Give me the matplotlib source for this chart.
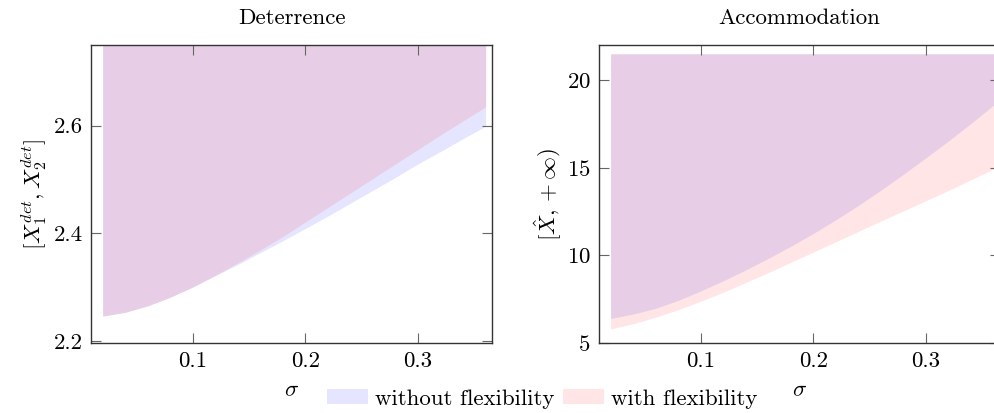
import matplotlib
matplotlib.use('Agg')
import matplotlib.pyplot as plt
from matplotlib.patches import Patch

plt.rcParams['font.family'] = 'serif'
plt.rcParams['font.serif'] = ['cmr10']
plt.rcParams['mathtext.fontset'] = 'cm'
plt.rcParams['axes.formatter.use_mathtext'] = True

# valores de sigma
sigma = [0.02, 0.04, 0.06, 0.08, 0.10, 0.12, 0.14, 0.16, 0.18,
         0.20, 0.22, 0.24, 0.26, 0.28, 0.30, 0.32, 0.34, 0.36]

# Deterrence: cota inferior del intervalo
det_sin_flex = [2.246, 2.253, 2.265, 2.281, 2.300, 2.321, 2.342, 2.364, 2.386,
                2.409, 2.432, 2.456, 2.480, 2.504, 2.529, 2.552, 2.576, 2.599]
det_con_flex = [2.246, 2.253, 2.265, 2.281, 2.300, 2.322, 2.345, 2.369, 2.394,
                2.421, 2.448, 2.475, 2.502, 2.529, 2.556, 2.583, 2.609, 2.635]
det_tope = 2.75

# Accommodation: cota inferior X hat
acc_sin_flex = [6.40, 6.65, 6.98, 7.43, 7.97, 8.55, 9.17, 9.83, 10.52,
                11.25, 12.03, 12.85, 13.72, 14.63, 15.57, 16.53, 17.53, 18.57]
acc_con_flex = [5.80, 6.10, 6.47, 6.90, 7.38, 7.90, 8.45, 9.02, 9.60,
                10.19, 10.78, 11.37, 11.96, 12.54, 13.12, 13.71, 14.31, 14.92]
acc_tope = 21.5

azul = (0, 0, 1, 0.1)
rojo = (1, 0, 0, 0.1)
fs = 16.5

fig = plt.figure(figsize=(9.95, 4.13), dpi=100)
ax1 = fig.add_axes([0.0915, 0.1695, 0.403, 0.7215])
ax2 = fig.add_axes([0.602, 0.1695, 0.403, 0.7215])

ax1.fill_between(sigma, det_sin_flex, det_tope, color=azul, linewidth=0)
ax1.fill_between(sigma, det_con_flex, det_tope, color=rojo, linewidth=0)
ax2.fill_between(sigma, acc_sin_flex, acc_tope, color=azul, linewidth=0)
ax2.fill_between(sigma, acc_con_flex, acc_tope, color=rojo, linewidth=0)

ax1.set_ylim(2.196, 2.75)
ax1.set_yticks([2.2, 2.4, 2.6])
ax1.set_yticklabels(['2.2', '2.4', '2.6'])
ax2.set_ylim(5, 22.0)
ax2.set_yticks([5, 10, 15, 20])

for ax in (ax1, ax2):
    ax.set_xlim(0.0097, 0.3657)
    ax.set_xticks([0.1, 0.2, 0.3])
    ax.set_xticklabels(['0.1', '0.2', '0.3'])
    ax.tick_params(direction='in', top=True, right=True, length=7, width=0.8,
                   color='#666666', labelsize=fs, pad=6)
    for s in ax.spines.values():
        s.set_color('#333333')
        s.set_linewidth(1.0)
    ax.set_xlabel(r'$\sigma$', fontsize=fs, labelpad=7)

ax1.set_title('Deterrence', fontsize=fs, pad=15)
ax2.set_title('Accommodation', fontsize=fs, pad=15)
ax1.set_ylabel(r'$[X_1^{det}, X_2^{det}]$', fontsize=fs, labelpad=3)
ax2.set_ylabel(r'$[\hat{X}, +\infty)$', fontsize=fs, labelpad=2)

handles = [Patch(facecolor=azul, edgecolor='none', label='without flexibility'),
           Patch(facecolor=rojo, edgecolor='none', label='with flexibility')]
fig.legend(handles=handles, loc='center', bbox_to_anchor=(542 / 995, 1 - 399 / 413),
           ncol=2, frameon=False, fontsize=fs, handlelength=1.8, handleheight=0.6,
           handletextpad=0.3, columnspacing=0.35, borderpad=0)

fig.savefig('out.png', dpi=100)
